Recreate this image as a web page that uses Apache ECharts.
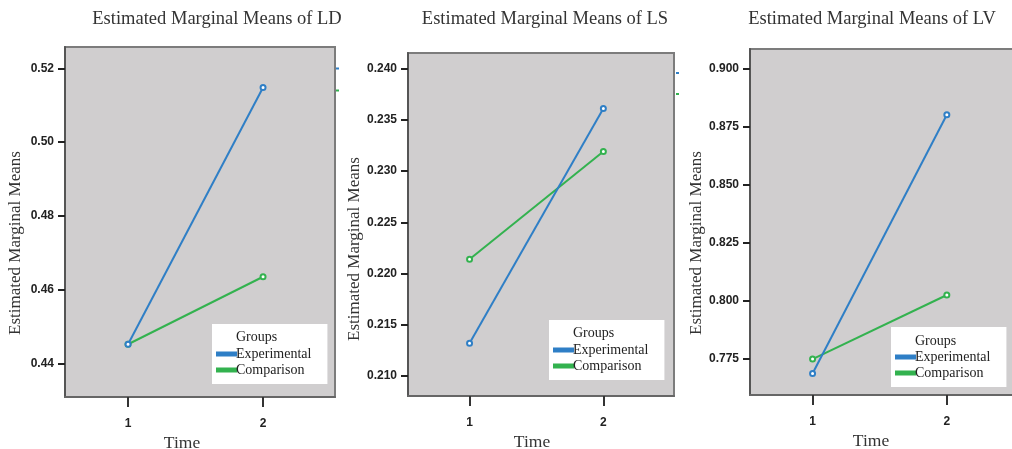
<!DOCTYPE html>
<html>
<head>
<meta charset="utf-8">
<script src="https://cdn.jsdelivr.net/npm/echarts@6/dist/echarts.min.js"></script>
<style>
html,body{margin:0;padding:0;background:#fff;}
#chart{width:1012px;height:449px;}
</style>
</head>
<body>
<div id="chart"></div>
<script>
// ---- data ----
const timePoints = [1, 2];
const groupNames = ['Experimental', 'Comparison'];
const panelTitles = ['Estimated Marginal Means of LD', 'Estimated Marginal Means of LS', 'Estimated Marginal Means of LV'];
const ldExperimental = [0.4452, 0.5148];
const ldComparison = [0.4452, 0.4635];
const lsExperimental = [0.2132, 0.2361];
const lsComparison = [0.2214, 0.2319];
const lvExperimental = [0.7688, 0.8803];
const lvComparison = [0.7750, 0.8026];
const ldTicks = [0.44, 0.46, 0.48, 0.50, 0.52];
const lsTicks = [0.210, 0.215, 0.220, 0.225, 0.230, 0.235, 0.240];
const lvTicks = [0.775, 0.800, 0.825, 0.850, 0.875, 0.900];

// ---- layout / style ----
const colors = ['#2f7fc6', '#33b24f'];
const serif = '"Liberation Serif", "Times New Roman", serif';
const sans = '"Liberation Sans", Arial, sans-serif';

const panels = [
  {exp: ldExperimental, comp: ldComparison, ticks: ldTicks, dec: 2, ymin: 0.4309, ymax: 0.5258,
   grid: {left: 65, top: 47, right: 677, bottom: 52}, xmin: 0.533, xmax: 2.533,
   titleX: 212, nameShiftY: 42, nameGap: 41, timeShift: 36,
   legend: {left: 212, top: 324}, groupsX: 236, groupsY: 338,
   stubs: [[335, 67.5], [335, 89.5]]},
  {exp: lsExperimental, comp: lsComparison, ticks: lsTicks, dec: 3, ymin: 0.20805, ymax: 0.24152,
   grid: {left: 408, top: 53, right: 338, bottom: 53}, xmin: 0.540, xmax: 2.528,
   titleX: 540, nameShiftY: 49, nameGap: 43, timeShift: 18,
   legend: {left: 549, top: 320}, groupsX: 573, groupsY: 334,
   stubs: [[675, 72], [675, 93]]},
  {exp: lvExperimental, comp: lvComparison, ticks: lvTicks, dec: 3, ymin: 0.7595, ymax: 0.9086,
   grid: {left: 750, top: 49, right: -6, bottom: 54}, xmin: 0.534, xmax: 2.53,
   titleX: 867, nameShiftY: 42, nameGap: 43, timeShift: 26,
   legend: {left: 891, top: 327}, groupsX: 915, groupsY: 342,
   stubs: []}
];

const option = {
  animation: false,
  backgroundColor: '#ffffff',
  title: [], grid: [], xAxis: [], yAxis: [], series: [], legend: [], graphic: []
};

panels.forEach((p, i) => {
  option.title.push({
    text: panelTitles[i], left: p.titleX, top: 5, textAlign: 'center',
    textStyle: {fontFamily: serif, fontSize: 18.5, fontWeight: 'normal', color: '#333'}
  });
  option.grid.push(Object.assign({show: true, containLabel: false, outerBoundsMode: 'none',
    backgroundColor: '#d0cecf', borderColor: '#7c7c7c', borderWidth: 2}, p.grid));
  option.xAxis.push({
    type: 'value', gridIndex: i, min: p.xmin, max: p.xmax,
    name: 'Time', nameLocation: 'middle', nameGap: 32,
    nameTextStyle: {fontFamily: serif, fontSize: 17.5, color: '#333', padding: [0, p.timeShift, 0, 0]},
    axisLine: {show: true, onZero: false, lineStyle: {color: '#666', width: 2}},
    axisTick: {show: true, length: 10, customValues: timePoints, lineStyle: {color: '#333', width: 2}},
    axisLabel: {customValues: timePoints, margin: 21, fontFamily: sans, fontWeight: 'bold', fontSize: 12, color: '#222',
      formatter: v => String(v)},
    splitLine: {show: false}
  });
  option.yAxis.push({
    type: 'value', gridIndex: i, min: p.ymin, max: p.ymax,
    name: 'Estimated Marginal Means', nameLocation: 'middle', nameGap: p.nameGap,
    nameTextStyle: {fontFamily: serif, fontSize: 17, color: '#333', padding: [0, p.nameShiftY, 0, 0]},
    axisLine: {show: true, onZero: false, lineStyle: {color: '#555', width: 2}},
    axisTick: {show: true, length: 7, customValues: p.ticks, lineStyle: {color: '#222', width: 2}},
    axisLabel: {customValues: p.ticks, margin: 11, fontFamily: sans, fontWeight: 'bold', fontSize: 12, color: '#222',
      formatter: v => v.toFixed(p.dec)},
    splitLine: {show: false}
  });
  [p.exp, p.comp].forEach((vals, k) => {
    option.series.push({
      type: 'line', name: groupNames[k], xAxisIndex: i, yAxisIndex: i,
      data: timePoints.map((t, j) => [t, vals[j]]),
      color: colors[k],
      lineStyle: {width: 2, color: colors[k]},
      symbol: 'emptyCircle', symbolSize: 5,
      itemStyle: {color: colors[k], borderColor: colors[k], borderWidth: 1},
      z: k === 0 ? 3 : 2
    });
  });
  option.legend.push({
    data: groupNames, orient: 'vertical', left: p.legend.left, top: p.legend.top,
    backgroundColor: '#ffffff', padding: [22, 16, 6, 4], itemGap: 0,
    itemWidth: 19, itemHeight: 3, icon: 'rect', selectedMode: false,
    textStyle: {fontFamily: serif, fontSize: 14, color: '#222', lineHeight: 16, padding: [0, 0, 0, -5]}
  });
  option.graphic.push({
    type: 'text', left: p.groupsX, top: p.groupsY - 8, z: 100,
    style: {text: 'Groups', font: '14px ' + serif, fill: '#222'}
  });
  p.stubs.forEach((s, k) => {
    option.graphic.push({
      type: 'rect', left: s[0] + 1, top: s[1], z: 100,
      shape: {width: 3, height: 2}, style: {fill: colors[k]}
    });
  });
});

const chart = echarts.init(document.getElementById('chart'), null, {renderer: 'canvas'});
chart.setOption(option);
</script>
</body>
</html>
